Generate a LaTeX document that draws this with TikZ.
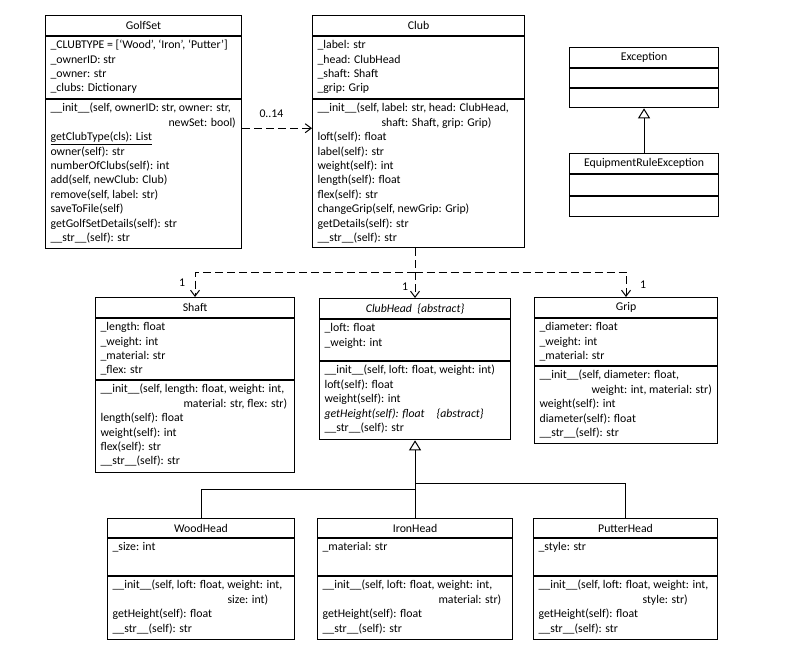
\documentclass[tikz,border=0pt]{standalone}
\usepackage{fontspec}
\setmainfont{Carlito}
\usetikzlibrary{arrows.meta, positioning}
\newcommand{\umlsize}{\fontsize{11.8pt}{14.4pt}\selectfont}

\begin{document}
\begin{tikzpicture}[
  x=1pt, y=-1pt,
  classname/.style={draw, line width=1.1pt, minimum height=20pt, inner sep=0pt,
    anchor=north west, font=\umlsize},
  compart/.style 2 args={draw, line width=1.1pt, inner xsep=5pt, inner ysep=2pt, font=\umlsize,
    execute at begin node={\begin{minipage}[t][\dimexpr#2-4pt\relax][t]{\dimexpr#1-10pt\relax}\raggedright\strut},
    execute at end node={\end{minipage}}},
  dep/.style={line width=1pt, dash pattern=on 8pt off 4pt, -{Straight Barb[length=6pt,width=9pt]}},
  inherit/.style={line width=1pt, -{Triangle[open,length=10pt,width=12pt]}},
  link/.style={line width=1pt},
  mult/.style={font=\umlsize, inner sep=0pt},
]
  \useasboundingbox (0,0) rectangle (792,661);

  % top row
  \node[classname, minimum width=196pt] (golfset) at (45,15) {GolfSet};
  \node[compart={196pt}{62pt}, below=0pt of golfset] (golfset-attr)
    {\_CLUBTYPE = [‘Wood’, ‘Iron’, ‘Putter’]\\ \_ownerID: str\\ \_owner: str\\ \_clubs: Dictionary};
  \node[compart={196pt}{149pt}, below=0pt of golfset-attr] (golfset-meth)
    {\_\_init\_\_(self, ownerID: str, owner: str,\\ \hspace*{118pt}\mbox{newSet: bool)}\\
     \underline{getClubType(cls): List}\\ owner(self): str\\ numberOfClubs(self): int\\
     add(self, newClub: Club)\\ remove(self, label: str)\\ saveToFile(self)\\
     getGolfSetDetails(self): str\\ \_\_str\_\_(self): str};

  \node[classname, minimum width=212pt] (club) at (312,15) {Club};
  \node[compart={212pt}{62pt}, below=0pt of club] (club-attr)
    {\_label: str\\ \_head: ClubHead\\ \_shaft: Shaft\\ \_grip: Grip};
  \node[compart={212pt}{148pt}, below=0pt of club-attr] (club-meth)
    {\_\_init\_\_(self, label: str, head: ClubHead,\\ \hspace*{64pt}\mbox{shaft: Shaft, grip: Grip)}\\
     loft(self): float\\ label(self): str\\ weight(self): int\\ length(self): float\\
     flex(self): str\\ changeGrip(self, newGrip: Grip)\\ getDetails(self): str\\
     \_\_str\_\_(self): str};

  \node[classname, minimum width=149pt] (exception) at (569,47) {Exception};
  \node[compart={149pt}{19pt}, below=0pt of exception] (exception-attr) {};
  \node[compart={149pt}{19pt}, below=0pt of exception-attr] (exception-meth) {};

  \node[classname, minimum width=149pt] (ere) at (569,153) {EquipmentRuleException};
  \node[compart={149pt}{21pt}, below=0pt of ere] (ere-attr) {};
  \node[compart={149pt}{20pt}, below=0pt of ere-attr] (ere-meth) {};

  % middle row
  \node[classname, minimum width=199pt] (shaft) at (95,297) {Shaft};
  \node[compart={199pt}{61pt}, below=0pt of shaft] (shaft-attr)
    {\_length: float\\ \_weight: int\\ \_material: str\\ \_flex: str};
  \node[compart={199pt}{92pt}, below=0pt of shaft-attr] (shaft-meth)
    {\_\_init\_\_(self, length: float, weight: int,\\ \hspace*{83pt}\mbox{material: str, flex: str)}\\
     length(self): float\\ weight(self): int\\ flex(self): str\\ \_\_str\_\_(self): str};

  \node[classname, minimum width=191pt] (clubhead) at (319,298) {\itshape ClubHead\ \ \{abstract\}};
  \node[compart={191pt}{41pt}, below=0pt of clubhead] (clubhead-attr)
    {\_loft: float\\ \_weight: int};
  \node[compart={191pt}{78pt}, below=0pt of clubhead-attr] (clubhead-meth)
    {\_\_init\_\_(self, loft: float, weight: int)\\ loft(self): float\\ weight(self): int\\
     \textit{getHeight(self): float\hspace{12pt}\{abstract\}}\\ \_\_str\_\_(self): str};

  \node[classname, minimum width=183pt] (grip) at (534,297) {Grip};
  \node[compart={183pt}{47pt}, below=0pt of grip] (grip-attr)
    {\_diameter: float\\ \_weight: int\\ \_material: str};
  \node[compart={183pt}{77pt}, below=0pt of grip-attr] (grip-meth)
    {\_\_init\_\_(self, diameter: float,\\ \hspace*{52pt}\mbox{weight: int, material: str)}\\
     weight(self): int\\ diameter(self): float\\ \_\_str\_\_(self): str};

  % bottom row
  \node[classname, minimum width=187pt, minimum height=19pt] (woodhead) at (107,518) {WoodHead};
  \node[compart={187pt}{37pt}, below=0pt of woodhead] (woodhead-attr) {\_size: int};
  \node[compart={187pt}{63pt}, below=0pt of woodhead-attr] (woodhead-meth)
    {\_\_init\_\_(self, loft: float, weight: int,\\ \hspace*{115pt}\mbox{size: int)}\\
     getHeight(self): float\\ \_\_str\_\_(self): str};

  \node[classname, minimum width=195pt, minimum height=19pt] (ironhead) at (317,518) {IronHead};
  \node[compart={195pt}{37pt}, below=0pt of ironhead] (ironhead-attr) {\_material: str};
  \node[compart={195pt}{63pt}, below=0pt of ironhead-attr] (ironhead-meth)
    {\_\_init\_\_(self, loft: float, weight: int,\\ \hspace*{116pt}\mbox{material: str)}\\
     getHeight(self): float\\ \_\_str\_\_(self): str};

  \node[classname, minimum width=184pt, minimum height=19pt] (putterhead) at (533,518) {PutterHead};
  \node[compart={184pt}{37pt}, below=0pt of putterhead] (putterhead-attr) {\_style: str};
  \node[compart={184pt}{63pt}, below=0pt of putterhead-attr] (putterhead-meth)
    {\_\_init\_\_(self, loft: float, weight: int,\\ \hspace*{104pt}\mbox{style: str)}\\
     getHeight(self): float\\ \_\_str\_\_(self): str};

  % dependencies
  \draw[dep] ([yshift=-29pt]golfset-meth.north east) -- ([yshift=-29pt]club-meth.north west)
    node[mult, pos=0.42, above=10pt] {0..14};
  \coordinate (fork) at (414.5,272);
  \draw[dep] (club-meth.south -| clubhead.north) -- (clubhead.north);
  \draw[dep] (fork) -| (shaft.north);
  \draw[dep] (fork) -| (grip.north);
  \node[mult] at ([shift={(-13,-14)}]shaft.north) {1};
  \node[mult] at ([shift={(-10,-11)}]clubhead.north) {1};
  \node[mult] at ([shift={(17,-12)}]grip.north) {1};

  % inheritance
  \draw[inherit] (ere.north) -- (exception-meth.south);
  \draw[inherit] (ironhead.north) -- (clubhead-meth.south);
  \coordinate (woodjoin) at (414.5,489);
  \coordinate (putterjoin) at (414.5,483);
  \draw[link] (woodhead.north) |- (woodjoin);
  \draw[link] (putterhead.north) |- (putterjoin);
\end{tikzpicture}
\end{document}
